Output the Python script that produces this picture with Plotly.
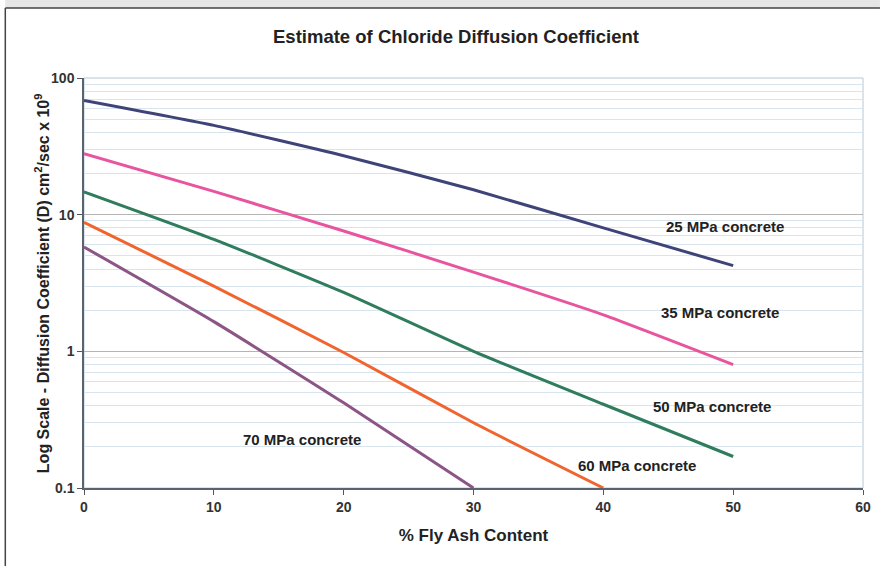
import plotly.graph_objects as go

fly_ash_25 = [0, 10, 20, 30, 40, 50]
diff_25 = [68.5, 45, 27, 15.2, 8.0, 4.24]
fly_ash_35 = [0, 10, 20, 30, 40, 50]
diff_35 = [27.9, 14.8, 7.6, 3.8, 1.85, 0.80]
fly_ash_50 = [0, 10, 20, 30, 40, 50]
diff_50 = [14.7, 6.6, 2.7, 1.0, 0.41, 0.17]
fly_ash_60 = [0, 10, 20, 30, 40]
diff_60 = [8.8, 3.0, 0.98, 0.30, 0.10]
fly_ash_70 = [0, 10, 20, 30]
diff_70 = [5.8, 1.65, 0.42, 0.10]

series_names = ["25 MPa concrete", "35 MPa concrete", "50 MPa concrete",
                "60 MPa concrete", "70 MPa concrete"]
series_x = [fly_ash_25, fly_ash_35, fly_ash_50, fly_ash_60, fly_ash_70]
series_y = [diff_25, diff_35, diff_50, diff_60, diff_70]
colors = ["#3f4478", "#e8559e", "#2f7d5c", "#f0652f", "#8c5585"]

# label positions (x in data units, y in log10 units)
label_pos = [(49.4, 0.914), (48.95, 0.281), (48.35, -0.404), (42.6, -0.834), (16.8, -0.646)]

x_ticks = [0, 10, 20, 30, 40, 50, 60]

W, H = 883, 566
ML, MR, MT, MB = 84, 17, 78, 78
FONT = "Liberation Sans, Arial, sans-serif"

fig = go.Figure()
for name, xs, ys, c in zip(series_names, series_x, series_y, colors):
    fig.add_trace(go.Scatter(x=xs, y=ys, mode="lines", name=name,
                             line=dict(color=c, width=3, shape="spline", smoothing=0.5),
                             showlegend=False))

for name, (lx, ly) in zip(series_names, label_pos):
    fig.add_annotation(x=lx, y=ly, xref="x", yref="y", text=f"<b>{name}</b>",
                       showarrow=False, font=dict(family=FONT, size=15, color="#222"))

pw = W - ML - MR
ph = H - MT - MB
# y-axis title as rotated annotation
fig.add_annotation(x=(42 - ML) / pw, y=0.5, xref="paper", yref="paper", textangle=-90,
                   text="<b>Log Scale - Diffusion Coefficient (D) cm<sup>2</sup>/sec x 10<sup>9</sup></b>",
                   showarrow=False, xanchor="center", yanchor="middle",
                   font=dict(family=FONT, size=16, color="#222"))

# outer frame (left and top)
left_px, top_px = 5, 8
fx = (left_px - ML) / pw
fy = 1 + (MT - top_px) / ph
fig.add_shape(type="rect", xref="paper", yref="paper", x0=fx, x1=1 + MR / pw, y0=fy, y1=1 + MT / ph,
              fillcolor="#e6e6e6", line=dict(width=0), layer="below")
fig.add_shape(type="line", xref="paper", yref="paper", x0=fx, x1=1 + MR / pw, y0=fy, y1=fy,
              line=dict(color="#444", width=1.5))
fig.add_shape(type="line", xref="paper", yref="paper", x0=fx, x1=fx, y0=-MB / ph, y1=fy,
              line=dict(color="#444", width=1.5))
# plot area light border
fig.add_shape(type="rect", xref="paper", yref="paper", x0=0, x1=1, y0=0, y1=1,
              line=dict(color="#b8c8d6", width=1), layer="below")

fig.update_layout(
    width=W, height=H,
    margin=dict(l=ML, r=MR, t=MT, b=MB),
    paper_bgcolor="white", plot_bgcolor="white",
    font=dict(family=FONT, color="#222"),
    title=dict(text="<b>Estimate of Chloride Diffusion Coefficient</b>", x=456 / W, xanchor="center",
               xref="container", y=1 - 37 / H, yanchor="middle", font=dict(size=18.5, color="#222")),
    xaxis=dict(range=[0, 60], tickvals=x_ticks, ticks="outside", ticklen=5, tickcolor="#555",
               showline=True, linecolor="#5a6470", linewidth=1.5, showgrid=False, zeroline=False,
               tickfont=dict(size=14, color="#333", weight="bold"),
               title=dict(text="<b>% Fly Ash Content</b>", font=dict(size=17, color="#222"), standoff=16)),
    yaxis=dict(type="log", range=[-1, 2], dtick=1, ticks="outside", ticklen=5, tickcolor="#555",
               showline=True, linecolor="#5a6470", linewidth=1.5,
               showgrid=True, gridcolor="#b5b5b5", gridwidth=1,
               minor=dict(dtick="D1", showgrid=True, gridcolor="#d8e4ee", gridwidth=1, ticks=""),
               tickfont=dict(size=14, color="#333", weight="bold")),
)

fig.write_html("out.html", post_script="document.body.style.margin='0';",
               config={"displayModeBar": False})
